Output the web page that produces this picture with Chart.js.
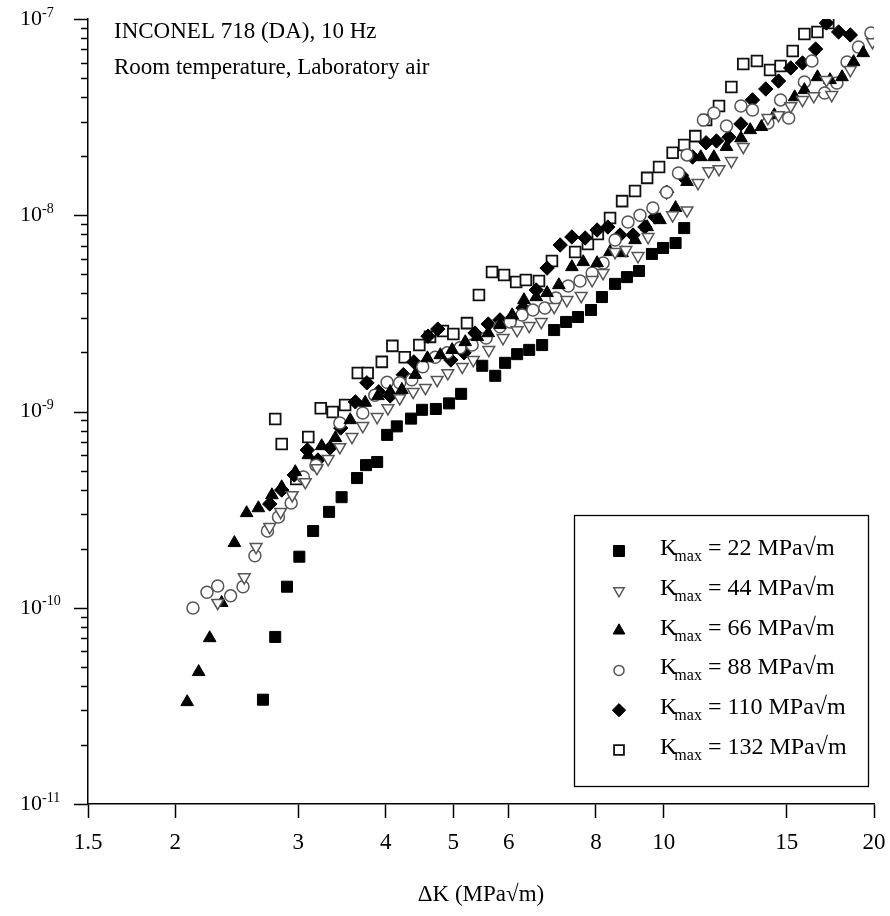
<!DOCTYPE html>
<html>
<head>
<meta charset="utf-8">
<title>INCONEL 718 crack growth</title>
<script src="https://cdn.jsdelivr.net/npm/chart.js@4.4.1/dist/chart.umd.min.js"></script>
<style>
  html, body { margin: 0; padding: 0; background: #fff; }
</style>
</head>
<body>
<canvas id="myChart" width="890" height="916"></canvas>
<script>
// ΔK (MPa√m) and da/dN, one pair of arrays per Kmax
const dk22 = [2.67, 2.78, 2.89, 3.01, 3.15, 3.32, 3.46, 3.64, 3.75, 3.89, 4.02, 4.15, 4.35, 4.51, 4.72, 4.93, 5.13, 5.50, 5.74, 5.93, 6.17, 6.42, 6.70, 6.97, 7.25, 7.54, 7.87, 8.16, 8.52, 8.86, 9.22, 9.62, 9.98, 10.4, 10.7];
const rate22 = [3.4e-11, 7.1e-11, 1.28e-10, 1.82e-10, 2.46e-10, 3.08e-10, 3.66e-10, 4.58e-10, 5.33e-10, 5.53e-10, 7.6e-10, 8.4e-10, 9.2e-10, 1.02e-9, 1.03e-9, 1.1e-9, 1.23e-9, 1.71e-9, 1.52e-9, 1.77e-9, 1.96e-9, 2.06e-9, 2.18e-9, 2.6e-9, 2.86e-9, 3.03e-9, 3.29e-9, 3.83e-9, 4.47e-9, 4.84e-9, 5.2e-9, 6.35e-9, 6.81e-9, 7.22e-9, 8.6e-9];

const dk44 = [2.30, 2.51, 2.61, 2.73, 2.83, 2.94, 3.07, 3.19, 3.31, 3.44, 3.58, 3.71, 3.89, 4.03, 4.19, 4.38, 4.56, 4.74, 4.91, 5.15, 5.34, 5.62, 5.89, 6.17, 6.42, 6.68, 6.97, 7.27, 7.62, 7.90, 8.19, 8.52, 8.83, 9.19, 9.50, 10.3, 10.8, 11.2, 11.6, 12.0, 12.5, 13.0, 14.1, 14.6, 15.2, 15.8, 16.4, 17.1, 17.4, 18.5, 19.9];
const rate44 = [1.06e-10, 1.43e-10, 2.04e-10, 2.58e-10, 3.08e-10, 3.75e-10, 4.37e-10, 5.15e-10, 5.73e-10, 6.59e-10, 7.42e-10, 8.44e-10, 9.38e-10, 1.04e-9, 1.17e-9, 1.26e-9, 1.32e-9, 1.45e-9, 1.57e-9, 1.69e-9, 1.83e-9, 2.06e-9, 2.37e-9, 2.60e-9, 2.73e-9, 2.86e-9, 3.41e-9, 3.70e-9, 3.88e-9, 4.68e-9, 5.08e-9, 6.50e-9, 6.65e-9, 6.20e-9, 7.75e-9, 1.0e-8, 1.06e-8, 1.46e-8, 1.68e-8, 1.72e-8, 1.89e-8, 2.23e-8, 3.13e-8, 3.24e-8, 3.60e-8, 3.87e-8, 4.05e-8, 4.89e-8, 4.10e-8, 5.50e-8, 7.63e-8];

const dk66 = [2.08, 2.16, 2.24, 2.33, 2.43, 2.53, 2.63, 2.75, 2.84, 2.97, 3.10, 3.24, 3.39, 3.56, 3.74, 3.90, 4.06, 4.22, 4.41, 4.59, 4.79, 4.98, 5.20, 5.41, 5.61, 5.83, 6.07, 6.31, 6.57, 6.81, 7.08, 7.39, 7.67, 8.03, 8.38, 8.72, 9.10, 9.47, 9.88, 10.4, 10.8, 11.3, 11.8, 12.3, 12.9, 13.3, 13.8, 14.4, 15.4, 15.9, 16.6, 17.3, 18.0, 18.7, 19.3];
const rate66 = [3.31e-11, 4.71e-11, 7.01e-11, 1.06e-10, 2.14e-10, 3.04e-10, 3.22e-10, 3.75e-10, 4.12e-10, 4.92e-10, 6.00e-10, 6.67e-10, 7.33e-10, 9.05e-10, 1.11e-9, 1.20e-9, 1.26e-9, 1.29e-9, 1.54e-9, 1.87e-9, 1.94e-9, 2.06e-9, 2.26e-9, 2.40e-9, 2.51e-9, 2.76e-9, 3.10e-9, 3.70e-9, 3.83e-9, 4.02e-9, 4.41e-9, 5.45e-9, 5.78e-9, 5.71e-9, 6.50e-9, 6.42e-9, 7.48e-9, 8.71e-9, 9.46e-9, 1.09e-8, 1.48e-8, 1.98e-8, 1.98e-8, 2.23e-8, 2.47e-8, 2.72e-8, 2.82e-8, 3.24e-8, 4.00e-8, 4.35e-8, 5.06e-8, 4.89e-8, 5.06e-8, 6.04e-8, 6.71e-8];

const dk88 = [2.12, 2.22, 2.30, 2.40, 2.50, 2.60, 2.71, 2.81, 2.93, 3.05, 3.18, 3.44, 3.71, 3.86, 4.02, 4.19, 4.36, 4.52, 4.71, 4.90, 5.11, 5.32, 5.57, 5.83, 6.03, 6.27, 6.50, 6.76, 7.01, 7.30, 7.59, 7.90, 8.19, 8.52, 8.89, 9.25, 9.65, 10.1, 10.5, 10.8, 11.4, 11.8, 12.3, 12.9, 13.4, 14.1, 14.7, 15.1, 15.9, 16.3, 17.0, 17.7, 18.3, 19.0, 19.8];
const rate88 = [9.97e-11, 1.20e-10, 1.29e-10, 1.15e-10, 1.28e-10, 1.84e-10, 2.46e-10, 2.90e-10, 3.42e-10, 4.64e-10, 5.33e-10, 8.74e-10, 9.83e-10, 1.21e-9, 1.41e-9, 1.40e-9, 1.45e-9, 1.69e-9, 1.89e-9, 1.99e-9, 2.11e-9, 2.18e-9, 2.37e-9, 2.70e-9, 2.86e-9, 3.10e-9, 3.29e-9, 3.37e-9, 3.79e-9, 4.36e-9, 4.62e-9, 5.08e-9, 5.71e-9, 7.48e-9, 9.24e-9, 1.00e-8, 1.09e-8, 1.31e-8, 1.64e-8, 2.03e-8, 3.06e-8, 3.32e-8, 2.85e-8, 3.60e-8, 3.44e-8, 2.95e-8, 3.87e-8, 3.13e-8, 4.78e-8, 6.11e-8, 4.20e-8, 4.72e-8, 6.04e-8, 7.20e-8, 8.49e-8];

const dk110 = [2.73, 2.84, 2.96, 3.09, 3.20, 3.33, 3.45, 3.62, 3.76, 3.91, 4.06, 4.24, 4.39, 4.60, 4.75, 4.96, 5.18, 5.37, 5.61, 5.83, 6.07, 6.29, 6.57, 6.81, 7.11, 7.39, 7.72, 8.03, 8.32, 8.66, 9.04, 9.40, 9.72, 10.1, 10.6, 11.0, 11.5, 11.9, 12.4, 12.9, 13.4, 14.0, 14.6, 15.2, 15.8, 16.5, 17.1, 17.8, 18.5];
const rate110 = [3.38e-10, 3.98e-10, 4.75e-10, 6.36e-10, 5.66e-10, 6.52e-10, 8.24e-10, 1.12e-9, 1.40e-9, 1.26e-9, 1.20e-9, 1.54e-9, 1.79e-9, 2.42e-9, 2.63e-9, 1.83e-9, 1.99e-9, 2.51e-9, 2.79e-9, 2.93e-9, 3.00e-9, 3.37e-9, 4.16e-9, 5.38e-9, 7.05e-9, 7.75e-9, 7.66e-9, 8.41e-9, 8.71e-9, 7.93e-9, 7.93e-9, 8.71e-9, 9.80e-9, 1.31e-8, 1.60e-8, 1.98e-8, 2.34e-8, 2.39e-8, 2.50e-8, 2.92e-8, 3.87e-8, 4.40e-8, 4.83e-8, 5.63e-8, 5.97e-8, 7.03e-8, 9.54e-8, 8.59e-8, 8.29e-8];

const dk132 = [2.78, 2.84, 2.98, 3.10, 3.23, 3.36, 3.50, 3.65, 3.77, 3.95, 4.09, 4.26, 4.47, 4.63, 4.83, 5.00, 5.23, 5.44, 5.68, 5.91, 6.15, 6.35, 6.63, 6.92, 7.47, 7.79, 8.05, 8.38, 8.72, 9.10, 9.47, 9.85, 10.3, 10.7, 11.1, 11.5, 12.0, 12.5, 13.0, 13.6, 14.2, 14.7, 15.3, 15.9, 16.6, 17.2];
const rate132 = [9.16e-10, 6.83e-10, 4.53e-10, 7.42e-10, 1.04e-9, 9.94e-10, 1.08e-9, 1.57e-9, 1.57e-9, 1.79e-9, 2.16e-9, 1.89e-9, 2.18e-9, 2.40e-9, 2.57e-9, 2.48e-9, 2.82e-9, 3.92e-9, 5.14e-9, 4.96e-9, 4.57e-9, 4.68e-9, 4.62e-9, 5.85e-9, 6.50e-9, 7.14e-9, 8.03e-9, 9.68e-9, 1.18e-8, 1.33e-8, 1.55e-8, 1.76e-8, 2.08e-8, 2.28e-8, 2.53e-8, 3.06e-8, 3.60e-8, 4.50e-8, 5.90e-8, 6.11e-8, 5.50e-8, 5.76e-8, 6.87e-8, 8.39e-8, 8.59e-8, 9.54e-8];

const kmaxValues = ['22', '44', '66', '88', '110', '132'];
const xTicks = [1.5, 2, 3, 4, 5, 6, 8, 10, 15, 20];
const yDecades = [-11, -10, -9, -8, -7];

const serif = '"Liberation Serif", "Times New Roman", serif';

// marker look for each Kmax (same order as kmaxValues)
const markers = [
  { style: 'rect',     rot: 0,   r: 7.8, lr: 7.8, fill: '#000', line: '#000', bw: 1 },
  { style: 'triangle', rot: 180, r: 6.8, lr: 6.0, fill: '#fff', line: '#555', bw: 1.5 },
  { style: 'triangle', rot: 0,   r: 7.3, lr: 6.8, fill: '#000', line: '#000', bw: 1 },
  { style: 'circle',   rot: 0,   r: 6.0, lr: 5.0, fill: '#fff', line: '#555', bw: 1.5 },
  { style: 'rectRot',  rot: 0,   r: 7.2, lr: 6.6, fill: '#000', line: '#000', bw: 1 },
  { style: 'rect',     rot: 0,   r: 7.6, lr: 7.0, fill: '#fff', line: '#111', bw: 1.8 }
];

const xs = [dk22, dk44, dk66, dk88, dk110, dk132];
const ys = [rate22, rate44, rate66, rate88, rate110, rate132];

const datasets = kmaxValues.map((k, n) => {
  const m = markers[n];
  return {
    label: 'Kmax = ' + k + ' MPa√m',
    data: xs[n].map((x, i) => ({ x: x, y: ys[n][i] })),
    pointStyle: m.style,
    rotation: m.rot,
    pointRadius: m.r,
    pointHoverRadius: m.r,
    backgroundColor: m.fill,
    borderColor: m.line,
    borderWidth: m.bw,
    showLine: false
  };
});

const extras = {
  id: 'extras',
  afterDraw(chart) {
    const ctx = chart.ctx;
    const ys = chart.scales.y;
    const axisX = chart.chartArea.left;
    ctx.save();

    // y axis ticks: long at the decades, short in between
    ctx.strokeStyle = '#000';
    ctx.lineWidth = 1.5;
    yDecades.forEach(p => {
      for (let m = 1; m <= 9; m++) {
        if (p === -7 && m > 1) break;
        const py = Math.round(ys.getPixelForValue(m * Math.pow(10, p))) + 0.5;
        const len = m === 1 ? 14 : 7;
        ctx.beginPath();
        ctx.moveTo(axisX - len, py);
        ctx.lineTo(axisX, py);
        ctx.stroke();
      }
    });

    // decade labels with raised exponent
    ctx.fillStyle = '#000';
    ctx.textBaseline = 'middle';
    ctx.textAlign = 'left';
    yDecades.forEach(p => {
      const py = ys.getPixelForValue(Math.pow(10, p));
      ctx.font = '22px ' + serif;
      ctx.fillText('10', 20, py);
      const w = ctx.measureText('10').width;
      ctx.font = '14px ' + serif;
      ctx.fillText('-' + Math.abs(p), 20 + w, py - 6);
    });

    // test conditions
    ctx.textBaseline = 'alphabetic';
    ctx.font = '23px ' + serif;
    ctx.fillText('INCONEL 718 (DA), 10 Hz', 114, 38);
    ctx.fillText('Room temperature, Laboratory air', 114, 74);

    // legend box
    ctx.lineWidth = 1.3;
    ctx.strokeStyle = '#000';
    ctx.strokeRect(574.5, 515.5, 294, 271);
    kmaxValues.forEach((k, n) => {
      const m = markers[n];
      const rowY = 551 + n * 39.8;
      ctx.fillStyle = m.fill;
      ctx.strokeStyle = m.line;
      ctx.lineWidth = m.bw;
      Chart.helpers.drawPoint(ctx, { pointStyle: m.style, rotation: m.rot, radius: m.lr, borderWidth: m.bw }, 619, rowY);
      ctx.fillStyle = '#000';
      ctx.font = '24px ' + serif;
      const base = rowY + 4;
      ctx.fillText('K', 660, base);
      const kw = ctx.measureText('K').width;
      ctx.font = '16px ' + serif;
      ctx.fillText('max', 660 + kw - 3, base + 6);
      const sw = ctx.measureText('max').width;
      ctx.font = '24px ' + serif;
      ctx.fillText(' = ' + k + ' MPa√m', 660 + kw - 3 + sw, base);
    });
    ctx.restore();
  }
};

new Chart(document.getElementById('myChart'), {
  type: 'scatter',
  data: { datasets: datasets },
  plugins: [extras],
  options: {
    responsive: false,
    animation: false,
    layout: { padding: { top: 19, right: 16, left: 0, bottom: 0 } },
    plugins: {
      legend: { display: false },
      tooltip: { enabled: false }
    },
    scales: {
      x: {
        type: 'logarithmic',
        min: 1.5,
        max: 20,
        afterBuildTicks: s => { s.ticks = xTicks.map(v => ({ value: v })); },
        afterFit: s => {
          s.height = 112;
          s.paddingLeft = 0;
          s.paddingRight = 0;
        },
        ticks: {
          callback: v => String(v),
          color: '#000',
          font: { family: serif, size: 23 },
          padding: 11,
          autoSkip: false,
          maxRotation: 0
        },
        grid: {
          display: true,
          drawOnChartArea: false,
          drawTicks: true,
          tickLength: 14,
          tickColor: '#000',
          tickWidth: 1.5
        },
        border: { display: true, color: '#000', width: 1.5 },
        title: {
          display: true,
          text: 'ΔK (MPa√m)',
          color: '#000',
          font: { family: serif, size: 23 },
          padding: { top: 0, bottom: 7 }
        }
      },
      y: {
        type: 'logarithmic',
        min: 1e-11,
        max: 1e-7,
        afterFit: s => {
          s.width = 88;
          s.paddingTop = 0;
          s.paddingBottom = 0;
        },
        ticks: { display: false },
        grid: { display: false },
        border: { display: true, color: '#000', width: 1.5 }
      }
    }
  }
});
</script>
</body>
</html>
